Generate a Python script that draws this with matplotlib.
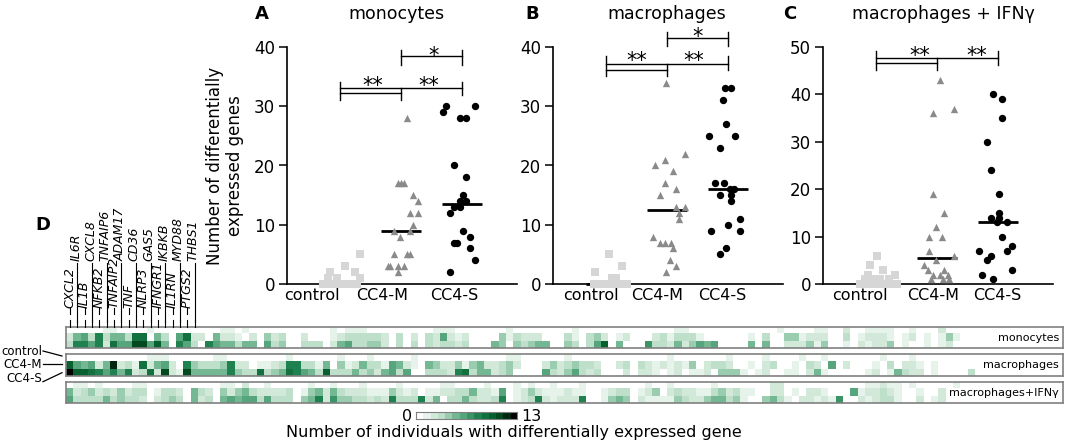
import numpy as np
import matplotlib
matplotlib.use("Agg")
import matplotlib.pyplot as plt
from matplotlib import transforms
from matplotlib.lines import Line2D
from matplotlib.colors import LinearSegmentedColormap

plt.rcParams["font.family"] = ["DejaVu Sans"]

W, H = 1065, 444

groups = ["control", "CC4-M", "CC4-S"]

# ---- panel A: monocytes ----
mono_ctrl = [5, 3, 2, 2, 1, 1, 1] + [0] * 13
mono_ctrl_dx = [0.33, 0.08, -0.16, 0.25, -0.2, -0.05, 0.33,
                -0.28, -0.23, -0.18, -0.14, -0.09, -0.05, 0.0, 0.05, 0.09, 0.14, 0.18, 0.23, 0.28]
mono_m = [28, 17, 17, 17, 15, 14, 12, 12, 10, 9, 9, 8, 5, 5, 5, 3, 3, 3, 3, 2]
mono_m_dx = [0.09, -0.05, 0.0, 0.05, 0.2, 0.28, 0.14, 0.28, 0.2, -0.12,
             0.14, -0.01, -0.12, 0.09, 0.14, -0.22, -0.18, -0.05, 0.05, -0.05]
mono_s = [30, 30, 29, 28, 28, 20, 18, 15, 14, 14, 13, 13, 12, 9, 8, 7, 7, 6, 4, 2]
mono_s_dx = [-0.27, 0.21, -0.32, -0.03, 0.06, -0.13, 0.06, 0.01, -0.03, 0.06,
             -0.13, -0.03, -0.2, 0.01, 0.13, -0.13, -0.09, 0.13, 0.21, -0.2]

# ---- panel B: macrophages ----
macro_ctrl = [5, 3, 2, 1, 1] + [0] * 15
macro_ctrl_dx = [0.04, 0.26, -0.18, 0.1, 0.16,
                 -0.2, -0.15, -0.1, -0.05, 0.0, 0.05, 0.1, 0.15, 0.2, 0.25, 0.3, 0.35, -0.02, 0.12, 0.22]
macro_m = [34, 22, 21, 20, 19, 17, 16, 15, 13, 13, 12, 11, 8, 7, 7, 7, 6, 4, 3, 2]
macro_m_dx = [-0.01, 0.29, -0.04, -0.19, 0.09, -0.04, 0.14, -0.11, 0.14, 0.29,
              0.19, 0.2, -0.23, -0.11, -0.04, 0.06, 0.09, 0.05, 0.14, -0.01]
macro_s = [33, 33, 31, 27, 25, 25, 23, 17, 17, 16, 16, 15, 15, 14, 11, 10, 9, 9, 6, 5]
macro_s_dx = [-0.05, 0.05, -0.09, -0.04, -0.32, 0.11, -0.13, -0.21, -0.07, 0.1,
              0.03, -0.13, 0.05, 0.05, 0.19, 0.0, -0.28, 0.2, -0.04, -0.13]

# ---- panel C: macrophages + IFNγ ----
ifn_ctrl = [6, 4, 3, 2, 2, 1, 1, 1, 1] + [0] * 11
ifn_ctrl_dx = [0.02, -0.1, 0.12, -0.14, 0.31, -0.18, -0.05, 0.06, 0.22,
               -0.26, -0.2, -0.14, -0.08, -0.02, 0.04, 0.1, 0.16, 0.22, 0.28, 0.34]
ifn_m = [43, 37, 36, 19, 15, 12, 10, 10, 7, 6, 5, 4, 3, 3, 2, 2, 2, 1, 1, 1]
ifn_m_dx = [0.04, 0.27, -0.06, -0.06, 0.12, -0.02, -0.13, 0.08, -0.13, 0.27,
            -0.02, -0.22, 0.12, -0.15, -0.07, 0.04, 0.18, 0.09, 0.2, -0.1]
ifn_s = [40, 39, 35, 30, 24, 19, 15, 14, 14, 13, 13, 10, 8, 7, 7, 6, 5, 3, 2, 1]
ifn_s_dx = [-0.08, 0.07, 0.07, -0.19, -0.11, 0.02, 0.02, -0.11, 0.02, -0.02,
            0.14, 0.07, 0.22, -0.31, 0.14, -0.11, -0.19, 0.22, -0.27, -0.08]

# ---- panel D: heatmap, counts 0..13 per gene (hex digit per column) ----
n_genes = 136
heat_mono = [
    ("0000011000" "0100000000" "0110100000" "0000001011" "1000000000" "1110000000" "1000000001"
     "0000000000" "0001100000" "0000000100" "0011002001" "1110010002"),
    ("2563835539" "9053069220" "5221020423" "0020001233" "3332030203" "2621200004" "1322200031"
     "0342012000" "2313331000" "0001030044" "1222003012" "2210120101" "41"),
    ("388682966b" "b6a5086308" "6553550634" "0033302563" "3442030303" "2332300054" "0434550043"
     "036a050007" "3325246560" "0005050022" "2414001021" "2240100101" "2"),
]
heat_macro = [
    ("0000000000" "0111000000" "1100000000" "1000000100" "0100000100" "0000000000" "1100000010"
     "0000000000" "0010000000" "1000010000" "1001000000" "0100010000"),
    ("a65625c231" "9256208433" "3482201123" "8833150412" "5331652105" "4224145223" "4200024234"
     "3320023032" "1212140233" "2001023001" "0320602000" "1030221010"),
    ("daa9868582" "392b21b555" "5584339345" "98653a3335" "3425636003" "3328935523" "4000063246"
     "3230002022" "1012011204" "4410120011" "0251000001" "2015322010" "0003"),
]
heat_ifn = [
    ("0110100001" "1000000000" "0110200100" "0001001000" "1000010000" "0110000100" "0101001000"
     "1000000001" "0010000010" "0000002200" "0000000001" "1211010000" "01"),
    ("5234232423" "3013320532" "0424532222" "3014525322" "2111421201" "1223352216" "0124211121"
     "1001233012" "4023221134" "2311002201" "0221000612" "2321001002"),
    ("6333353433" "2023430523" "0565663633" "3045827443" "3232833382" "5033532238" "0123821222"
     "8001454021" "1114322455" "3410045310" "2212170021" "2331002012"),
]
strip_names = ["monocytes", "macrophages", "macrophages+IFNγ"]
genes = ["CXCL2", "IL6R", "IL1B", "CXCL8", "NFKB2", "TNFAIP6", "TNFAIP2", "ADAM17", "TNF",
         "CD36", "NLRP3", "GAS5", "IFNGR1", "IKBKB", "IL1RN", "MYD88", "PTGS2", "THBS1"]
cbar_max = 13


def fx(px):
    return px / W


def fy(py):
    return 1 - py / H


fig = plt.figure(figsize=(W / 100, H / 100), dpi=100)

markers = ["s", "^", "o"]
colors = ["#d6d6d6", "#8a8a8a", "black"]
sizes = [26, 28, 28]


def scatter_panel(left_px, ymax, data, dxs, label_pos, brackets, stars):
    ax = fig.add_axes([fx(left_px), fy(284), fx(230), 237 / H])
    ax.set_xlim(-0.87, 2.9)
    ax.set_ylim(0, ymax)
    for side in ("top", "right"):
        ax.spines[side].set_visible(False)
    for side in ("left", "bottom"):
        ax.spines[side].set_linewidth(1.2)
    ax.set_yticks(range(0, ymax + 1, 10))
    ax.tick_params(axis="y", length=5.5, width=1.1, labelsize=12, pad=3)
    ax.set_xticks(label_pos)
    ax.set_xticklabels(groups)
    ax.tick_params(axis="x", length=0, labelsize=11.5, pad=3)
    for gi, (vals, dx) in enumerate(zip(data, dxs)):
        ax.scatter(gi + np.array(dx), vals, marker=markers[gi], s=sizes[gi],
                   c=colors[gi], linewidths=0, clip_on=False, zorder=3)
        med = np.median(vals)
        ax.plot([gi - 0.33, gi + 0.33], [med, med], color="black", lw=2,
                solid_capstyle="butt", zorder=2.6, clip_on=False)
    for (x0, y0, x1, y1) in brackets:
        ax.plot([x0, x1], [y0, y1], color="black", lw=1.0, clip_on=False)
    for (x, y, s) in stars:
        ax.text(x, y, s, ha="center", va="baseline", fontsize=15, clip_on=False)
    return ax


scatter_panel(287, 40, [mono_ctrl, mono_m, mono_s], [mono_ctrl_dx, mono_m_dx, mono_s_dx],
              [-0.46, 0.69, 1.87],
              [(0, 33.0, 2, 33.0), (0, 32.2, 1, 32.2), (0, 31.1, 0, 34.1), (1, 31.1, 1, 33.0),
               (2, 31.9, 2, 34.1), (1, 38.4, 2, 38.4), (1, 37.0, 1, 39.5), (2, 37.0, 2, 39.5)],
              [(0.54, 32.4, "**"), (1.46, 32.4, "**"), (1.53, 37.5, "*")])
scatter_panel(553, 40, [macro_ctrl, macro_m, macro_s], [macro_ctrl_dx, macro_m_dx, macro_s_dx],
              [-0.25, 0.84, 1.90],
              [(0, 37.2, 2, 37.2), (0, 36.1, 1, 36.1), (0, 35.1, 0, 38.4), (1, 35.1, 1, 37.2),
               (2, 36.1, 2, 38.4), (1, 41.5, 2, 41.5), (1, 40.2, 1, 42.5), (2, 40.2, 2, 42.5)],
              [(0.50, 36.6, "**"), (1.43, 36.6, "**"), (1.50, 40.6, "*")])
scatter_panel(823, 50, [ifn_ctrl, ifn_m, ifn_s], [ifn_ctrl_dx, ifn_m_dx, ifn_s_dx],
              [-0.26, 0.93, 1.98],
              [(0, 47.7, 2, 47.7), (0, 46.6, 1, 46.6), (0, 45.1, 0, 49.2), (1, 45.1, 1, 47.7),
               (2, 46.3, 2, 49.2)],
              [(0.72, 46.9, "**"), (1.65, 46.9, "**")])

# panel letters and titles
for letter, lx in (("A", 255), ("B", 525), ("C", 783)):
    fig.text(fx(lx), fy(14), letter, fontsize=13, fontweight="bold", ha="left", va="center")
for title, tx in (("monocytes", 396), ("macrophages", 667), ("macrophages + IFNγ", 943)):
    fig.text(fx(tx), fy(14), title, fontsize=12.5, ha="center", va="center")
fig.text(fx(225), fy(166), "Number of differentially\nexpressed genes", rotation=90,
         ha="center", va="center", fontsize=12, linespacing=1.1)

# ---- heatmap strips ----
cmap = LinearSegmentedColormap.from_list(
    "wgk", [(0, "#ffffff"), (1 / 13, "#e6f3ea"), (3 / 13, "#bfe0cb"), (5 / 13, "#74b893"),
            (8 / 13, "#1f8250"), (10 / 13, "#08602f"), (11.5 / 13, "#033d1a"), (1, "#000000")])

strip_px = [(326.7, 348.3), (354.3, 376.0), (382.3, 403.3)]
strip_axes = []
for rows, name, (top, bot) in zip([heat_mono, heat_macro, heat_ifn], strip_names, strip_px):
    ax = fig.add_axes([fx(66.3), fy(bot), fx(996.7), (bot - top) / H])
    grid = np.array([[int(c, 16) for c in r.ljust(n_genes, "0")] for r in rows])
    ax.imshow(grid, cmap=cmap, vmin=0, vmax=cbar_max, aspect="auto",
              interpolation="nearest", extent=(0, n_genes, 3, 0))
    ax.set_xticks([])
    ax.set_yticks([])
    for sp in ax.spines.values():
        sp.set_color("#808080")
        sp.set_linewidth(1.2)
    ax.text(0.996, 0.5, name, transform=ax.transAxes, ha="right", va="center", fontsize=8)
    strip_axes.append(ax)

# gene labels above the first strip
gtrans = transforms.blended_transform_factory(strip_axes[0].transData, fig.transFigure)
for k, g in enumerate(genes):
    x = k + 0.5
    if k % 2:
        fig.text(x - 0.2, fy(261), g, transform=gtrans, rotation=90, ha="center", va="bottom",
                 fontsize=9, fontstyle="italic")
        fig.add_artist(Line2D([x, x], [fy(263), fy(322)], transform=gtrans, color="black", lw=0.8))
    else:
        fig.text(x, fy(308), g, transform=gtrans, rotation=90, ha="center", va="bottom",
                 fontsize=9, fontstyle="italic")
        fig.add_artist(Line2D([x, x], [fy(308), fy(314)], transform=gtrans, color="black", lw=0.8))
    fig.add_artist(Line2D([x, x], [fy(320), fy(326.7)], transform=gtrans, color="black", lw=0.8))

fig.text(fx(35), fy(225), "D", fontsize=13, fontweight="bold", ha="left", va="center")

# group labels pointing at the middle strip
for lab, ty, (y0, y1) in (("control", 351, (351, 356)), ("CC4-M", 364, (364, 364)),
                           ("CC4-S", 378, (381.7, 372.7))):
    fig.text(fx(42), fy(ty), lab, ha="right", va="center", fontsize=8.5)
    fig.add_artist(Line2D([fx(43), fx(62)], [fy(y0), fy(y1)], transform=fig.transFigure,
                          color="black", lw=0.9))

# colour scale
cax = fig.add_axes([fx(415.7), fy(419), fx(101), 6.7 / H])
cax.imshow(np.arange(cbar_max + 1)[None, :], cmap=cmap, vmin=0, vmax=cbar_max, aspect="auto",
           interpolation="nearest", extent=(0, cbar_max + 1, 0, 1))
cax.set_xticks([])
cax.set_yticks([])
for sp in cax.spines.values():
    sp.set_color("#808080")
    sp.set_linewidth(0.8)
fig.text(fx(412), fy(416), "0", ha="right", va="center", fontsize=11.5)
fig.text(fx(521), fy(416), str(cbar_max), ha="left", va="center", fontsize=11.5)
fig.text(fx(514), fy(432), "Number of individuals with differentially expressed gene",
         ha="center", va="center", fontsize=11.5)

fig.savefig("out.png", dpi=100)
